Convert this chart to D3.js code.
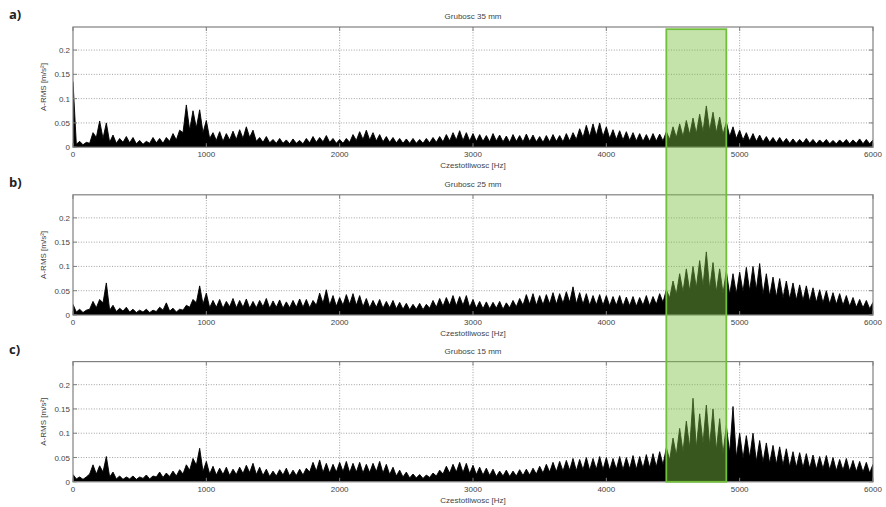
<!DOCTYPE html>
<html><head><meta charset="utf-8">
<script src="https://cdn.jsdelivr.net/npm/d3@7"></script>
<style>body{margin:0;background:#fff}</style></head>
<body>
<svg id="chart" width="886" height="507"></svg>
<script>
// ---------- data ----------
const panelLabels = ["a)", "b)", "c)"];
const titles = ["Grubosc 35 mm", "Grubosc 25 mm", "Grubosc 15 mm"];
const xLabel = "Czestotliwosc [Hz]";
const yLabel = "A-RMS [m/s²]";
const xTicks = [0, 1000, 2000, 3000, 4000, 5000, 6000];
const yTicks = [0, 0.05, 0.1, 0.15, 0.2];
const yTickLabels = ["0", "0.05", "0.1", "0.15", "0.2"];
const peakStep = 50;     // peaks at 0, 50, ... 6000 Hz
const troughOffset = 25; // troughs at 25, 75, ... 5975 Hz
const band = [4450, 4900];

// local maxima of the spectrum (every 50 Hz)
const peaks35 = [0.135,0.012,0.010,0.030,0.054,0.050,0.025,0.018,0.022,0.020,
  0.014,0.012,0.020,0.018,0.020,0.028,0.035,0.087,0.075,0.077,
  0.055,0.030,0.032,0.028,0.033,0.036,0.042,0.035,0.020,0.022,
  0.016,0.018,0.015,0.017,0.014,0.018,0.022,0.020,0.024,0.018,
  0.016,0.018,0.026,0.032,0.035,0.030,0.026,0.022,0.020,0.018,
  0.017,0.018,0.016,0.018,0.020,0.022,0.026,0.030,0.034,0.030,
  0.028,0.026,0.024,0.028,0.025,0.023,0.026,0.024,0.027,0.025,
  0.022,0.024,0.026,0.024,0.028,0.030,0.038,0.045,0.048,0.050,
  0.042,0.036,0.034,0.032,0.030,0.028,0.026,0.028,0.027,0.032,
  0.042,0.048,0.055,0.060,0.068,0.085,0.072,0.062,0.052,0.042,
  0.035,0.030,0.028,0.025,0.022,0.020,0.020,0.018,0.017,0.016,
  0.018,0.016,0.015,0.016,0.014,0.015,0.016,0.015,0.017,0.016,0.015];
// local minima between them
const troughs35 = [0.006,0.005,0.008,0.020,0.018,0.010,0.008,0.010,0.009,0.007,
  0.006,0.008,0.009,0.008,0.012,0.015,0.030,0.035,0.040,0.030,
  0.018,0.014,0.012,0.015,0.016,0.018,0.020,0.012,0.010,0.009,
  0.008,0.008,0.007,0.008,0.007,0.009,0.010,0.011,0.010,0.008,
  0.008,0.010,0.014,0.016,0.015,0.013,0.011,0.010,0.009,0.008,
  0.008,0.008,0.008,0.009,0.010,0.011,0.013,0.015,0.014,0.013,
  0.012,0.012,0.011,0.013,0.011,0.010,0.012,0.011,0.012,0.011,
  0.010,0.011,0.012,0.011,0.013,0.016,0.020,0.022,0.024,0.022,
  0.018,0.016,0.015,0.014,0.013,0.012,0.012,0.013,0.013,0.016,
  0.020,0.022,0.026,0.028,0.032,0.034,0.030,0.026,0.022,0.018,
  0.015,0.013,0.012,0.011,0.010,0.009,0.009,0.008,0.008,0.008,
  0.008,0.007,0.008,0.007,0.007,0.008,0.007,0.008,0.007,0.007];

const peaks25 = [0.022,0.012,0.010,0.028,0.032,0.066,0.020,0.014,0.016,0.012,
  0.010,0.012,0.010,0.016,0.025,0.014,0.012,0.020,0.032,0.060,
  0.045,0.030,0.032,0.028,0.034,0.030,0.033,0.028,0.030,0.034,
  0.029,0.031,0.027,0.030,0.033,0.032,0.030,0.045,0.052,0.040,
  0.036,0.042,0.044,0.040,0.034,0.030,0.032,0.028,0.030,0.026,
  0.024,0.022,0.024,0.022,0.030,0.034,0.036,0.040,0.038,0.040,
  0.032,0.028,0.027,0.026,0.028,0.025,0.030,0.034,0.042,0.044,
  0.040,0.042,0.046,0.044,0.048,0.058,0.046,0.044,0.040,0.042,
  0.040,0.038,0.040,0.037,0.038,0.036,0.040,0.038,0.044,0.052,
  0.070,0.085,0.095,0.100,0.112,0.130,0.108,0.095,0.090,0.085,
  0.088,0.098,0.100,0.106,0.085,0.078,0.075,0.070,0.066,0.062,
  0.060,0.056,0.052,0.050,0.046,0.044,0.040,0.036,0.032,0.030,0.026];
const troughs25 = [0.006,0.005,0.012,0.015,0.025,0.010,0.007,0.008,0.006,0.005,
  0.006,0.005,0.007,0.010,0.008,0.006,0.010,0.016,0.025,0.022,
  0.015,0.016,0.014,0.017,0.015,0.016,0.014,0.015,0.017,0.014,
  0.016,0.014,0.015,0.016,0.016,0.015,0.020,0.024,0.020,0.018,
  0.020,0.022,0.020,0.017,0.015,0.016,0.014,0.015,0.013,0.012,
  0.011,0.012,0.011,0.014,0.016,0.018,0.020,0.019,0.020,0.016,
  0.014,0.013,0.013,0.014,0.012,0.015,0.017,0.020,0.022,0.020,
  0.021,0.023,0.022,0.024,0.026,0.023,0.022,0.020,0.021,0.020,
  0.019,0.020,0.018,0.019,0.018,0.020,0.019,0.022,0.026,0.035,
  0.042,0.048,0.050,0.056,0.060,0.054,0.048,0.045,0.042,0.044,
  0.048,0.050,0.052,0.042,0.039,0.037,0.035,0.033,0.031,0.030,
  0.028,0.026,0.025,0.023,0.022,0.020,0.018,0.016,0.015,0.013];

const peaks15 = [0.015,0.010,0.010,0.035,0.033,0.052,0.020,0.012,0.010,0.012,
  0.010,0.014,0.012,0.020,0.018,0.022,0.025,0.035,0.048,0.069,
  0.042,0.032,0.028,0.030,0.026,0.030,0.034,0.038,0.030,0.026,
  0.022,0.025,0.028,0.024,0.026,0.028,0.040,0.045,0.038,0.036,
  0.040,0.042,0.038,0.040,0.036,0.038,0.042,0.036,0.030,0.024,
  0.020,0.016,0.015,0.014,0.018,0.024,0.032,0.036,0.040,0.038,
  0.034,0.030,0.028,0.026,0.022,0.024,0.022,0.025,0.026,0.028,
  0.032,0.036,0.040,0.042,0.044,0.048,0.046,0.050,0.048,0.052,
  0.050,0.048,0.052,0.050,0.054,0.052,0.056,0.058,0.062,0.070,
  0.090,0.110,0.125,0.172,0.140,0.158,0.150,0.130,0.115,0.155,
  0.100,0.095,0.100,0.085,0.080,0.075,0.072,0.068,0.062,0.060,
  0.058,0.055,0.052,0.054,0.050,0.046,0.048,0.044,0.042,0.040,0.036];
const troughs15 = [0.006,0.005,0.016,0.016,0.020,0.010,0.006,0.005,0.006,0.005,
  0.007,0.006,0.010,0.009,0.011,0.012,0.016,0.024,0.034,0.021,
  0.016,0.014,0.015,0.013,0.015,0.017,0.019,0.015,0.013,0.011,
  0.012,0.014,0.012,0.013,0.014,0.020,0.022,0.019,0.018,0.020,
  0.021,0.019,0.020,0.018,0.019,0.021,0.018,0.015,0.012,0.010,
  0.008,0.008,0.007,0.009,0.012,0.016,0.018,0.020,0.019,0.017,
  0.015,0.014,0.013,0.011,0.012,0.011,0.012,0.013,0.014,0.016,
  0.018,0.020,0.021,0.022,0.024,0.023,0.025,0.024,0.026,0.025,
  0.024,0.026,0.025,0.027,0.026,0.028,0.029,0.031,0.035,0.045,
  0.055,0.062,0.070,0.070,0.079,0.075,0.065,0.058,0.060,0.050,
  0.048,0.050,0.042,0.040,0.038,0.036,0.034,0.031,0.030,0.029,
  0.028,0.026,0.027,0.025,0.023,0.024,0.022,0.021,0.020,0.018];

const panels = [
  {label: panelLabels[0], title: titles[0], peaks: peaks35, troughs: troughs35},
  {label: panelLabels[1], title: titles[1], peaks: peaks25, troughs: troughs25},
  {label: panelLabels[2], title: titles[2], peaks: peaks15, troughs: troughs15}
];

// ---------- layout ----------
const svg = d3.select("#chart");
const left = 73, right = 873;
const tops = [27, 194.8, 361.6];
const ph = 120.2;
const x = d3.scaleLinear().domain([0, 6000]).range([left, right]);
const font = "Arial, 'Liberation Sans', sans-serif";
const textCol = "#444";

const yScales = [];
panels.forEach((p, k) => {
  const top = tops[k], bottom = top + ph;
  const y = d3.scaleLinear().domain([0, 0.2475]).range([bottom, top]);
  yScales.push(y);
  const g = svg.append("g");

  // panel letter
  svg.append("text").attr("x", 9).attr("y", top - 8)
    .attr("font-family", "'Open Sans', Arial, sans-serif").attr("font-weight", "bold")
    .attr("font-size", 13).attr("fill", "#222").text(p.label);

  // clip
  const cid = "clip" + k;
  svg.append("clipPath").attr("id", cid).append("rect")
    .attr("x", left).attr("y", top).attr("width", right - left).attr("height", ph);

  // grid
  const grid = g.append("g").attr("stroke", "#8a8a8a").attr("stroke-width", 0.8)
    .attr("stroke-dasharray", "1,1.6");
  grid.selectAll("line.v").data(xTicks.slice(1, -1)).join("line")
    .attr("x1", d => x(d)).attr("x2", d => x(d)).attr("y1", top).attr("y2", bottom);
  grid.selectAll("line.h").data(yTicks.slice(1)).join("line")
    .attr("x1", left).attr("x2", right).attr("y1", d => y(d)).attr("y2", d => y(d));

  // data: spectrum line alternating between local maxima and minima
  const pts = [];
  p.peaks.forEach((v, i) => {
    pts.push([i * peakStep, v]);
    if (i < p.troughs.length) pts.push([i * peakStep + troughOffset, p.troughs[i]]);
  });
  const dg = g.append("g").attr("clip-path", `url(#${cid})`);
  dg.append("path").datum(pts)
    .attr("fill", "#000")
    .attr("d", d3.area().x(d => x(d[0])).y0(y(0)).y1(d => y(d[1])));
  dg.append("path").datum(pts)
    .attr("fill", "none").attr("stroke", "#000").attr("stroke-width", 0.9)
    .attr("stroke-linejoin", "miter")
    .attr("d", d3.line().x(d => x(d[0])).y(d => y(d[1])));

  // frame
  g.append("rect").attr("x", left).attr("y", top).attr("width", right - left).attr("height", ph)
    .attr("fill", "none").attr("stroke", "#808080").attr("stroke-width", 1.2);

  // ticks (inward, all sides)
  const tk = g.append("g").attr("stroke", "#808080").attr("stroke-width", 1);
  tk.selectAll("line.b").data(xTicks).join("line")
    .attr("x1", d => x(d)).attr("x2", d => x(d)).attr("y1", bottom).attr("y2", bottom - 4);
  tk.selectAll("line.t").data(xTicks).join("line")
    .attr("x1", d => x(d)).attr("x2", d => x(d)).attr("y1", top).attr("y2", top + 4);
  tk.selectAll("line.l").data(yTicks).join("line")
    .attr("x1", left).attr("x2", left + 4).attr("y1", d => y(d)).attr("y2", d => y(d));
  tk.selectAll("line.r").data(yTicks).join("line")
    .attr("x1", right).attr("x2", right - 4).attr("y1", d => y(d)).attr("y2", d => y(d));

  // tick labels
  g.selectAll("text.xt").data(xTicks).join("text")
    .attr("x", d => x(d)).attr("y", bottom + 10).attr("text-anchor", "middle")
    .attr("font-family", font).attr("font-size", 8).attr("fill", textCol).text(d => d);
  g.selectAll("text.yt").data(yTicks).join("text")
    .attr("x", left - 3).attr("y", d => y(d) + 3).attr("text-anchor", "end")
    .attr("font-family", font).attr("font-size", 8).attr("fill", textCol)
    .text((d, i) => yTickLabels[i]);

  // title / x label / y label
  g.append("text").attr("x", (left + right) / 2).attr("y", top - 8).attr("text-anchor", "middle")
    .attr("font-family", font).attr("font-size", 8).attr("fill", textCol).text(p.title);
  g.append("text").attr("x", (left + right) / 2).attr("y", bottom + 21).attr("text-anchor", "middle")
    .attr("font-family", font).attr("font-size", 8).attr("fill", textCol).text(xLabel);
  g.append("text").attr("transform", `translate(${left - 27},${(top + bottom) / 2}) rotate(-90)`)
    .attr("text-anchor", "middle")
    .attr("font-family", font).attr("font-size", 8).attr("fill", textCol).text(yLabel);
});

// highlighted band across all panels
svg.append("rect")
  .attr("x", x(band[0])).attr("width", x(band[1]) - x(band[0]))
  .attr("y", yScales[0](0.243)).attr("height", yScales[2](0) - yScales[0](0.243))
  .attr("fill", "#7cc142").attr("fill-opacity", 0.45)
  .attr("stroke", "#72bf3c").attr("stroke-width", 1.8);
</script>
</body></html>
